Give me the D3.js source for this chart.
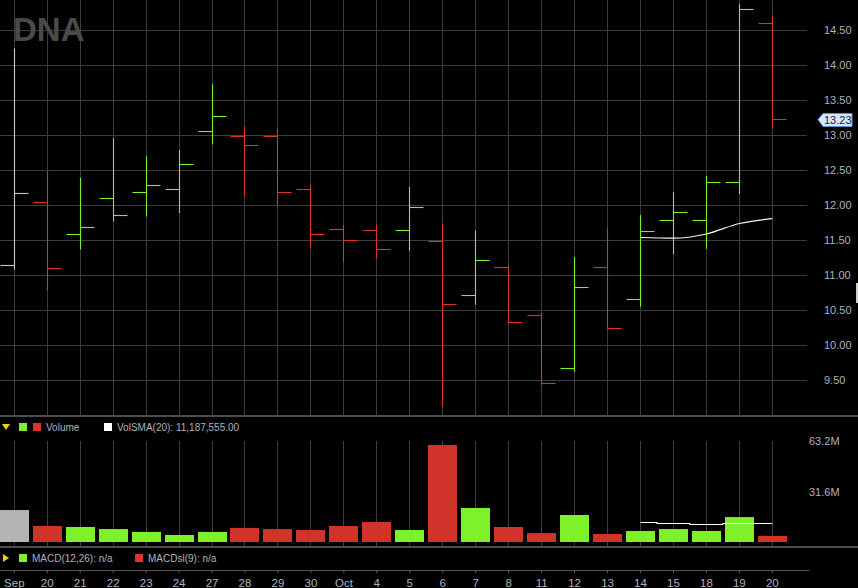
<!DOCTYPE html>
<html>
<head>
<meta charset="utf-8">
<script src="https://cdn.jsdelivr.net/npm/d3@7"></script>
<style>
  body { margin: 0; background: #000; }
  svg { display: block; font-family: "Liberation Sans", Arial, sans-serif; }
</style>
</head>
<body>
<div id="chart"></div>
<script>
// Data (DNA daily bars, Sep 17 - Oct 20)
var dates = ["2021-09-17","2021-09-20","2021-09-21","2021-09-22","2021-09-23","2021-09-24",
  "2021-09-27","2021-09-28","2021-09-29","2021-09-30","2021-10-01","2021-10-04","2021-10-05",
  "2021-10-06","2021-10-07","2021-10-08","2021-10-11","2021-10-12","2021-10-13","2021-10-14",
  "2021-10-15","2021-10-18","2021-10-19","2021-10-20"];
var tickLabels = ["Sep","20","21","22","23","24","27","28","29","30","Oct","4","5",
  "6","7","8","11","12","13","14","15","18","19","20"];
var openP  = [11.14,12.04,11.59,12.10,12.19,12.23,13.06,12.99,12.99,12.23,11.66,11.64,11.64,
  11.49,10.71,11.11,10.43,9.67,11.11,10.65,11.79,11.79,12.33,14.59];
var highP  = [14.24,12.49,12.39,12.96,12.70,12.79,13.73,13.13,13.10,12.29,11.72,11.72,12.26,
  11.74,11.64,11.14,10.46,11.26,11.67,11.86,12.19,12.42,14.88,14.71];
var lowP   = [11.08,10.78,11.37,11.77,11.84,11.89,12.87,12.13,12.00,11.39,11.18,11.24,11.35,
  9.12,10.58,10.31,9.43,9.62,10.23,10.55,11.30,11.38,12.16,13.10];
var closeP = [12.17,11.10,11.69,11.86,12.29,12.59,13.27,12.86,12.19,11.59,11.50,11.37,11.97,
  10.59,11.21,10.33,9.46,10.83,10.24,11.63,11.90,12.32,14.80,13.23];
var volume = [20.0,10.0,9.4,8.1,6.3,4.4,6.3,8.8,8.1,7.5,10.0,12.5,7.5,
  60.7,21.3,9.4,5.6,16.9,5.0,6.9,8.1,6.9,15.6,3.8]; // millions
var smaDates = ["2021-10-14","2021-10-15","2021-10-18","2021-10-19","2021-10-20"];
var priceSma = [11.54,11.53,11.59,11.74,11.81];
var volSma   = [12.3,11.5,11.1,11.6,11.6];
var priceTicks = [9.5,10,10.5,11,11.5,12,12.5,13,13.5,14,14.5];
var volTicks = [31.6,63.2];

var W = 858, H = 588, plotRight = 807;
var green = "#7df22a", red = "#dd3328", grid = "#3c3c3c", txt = "#a9b3bf";

var svg = d3.select("#chart").append("svg")
  .attr("width", W).attr("height", H)
  .style("background", "#000");

// X scale: one band per trading day
var step = 32.957;
var x = d3.scaleBand()
  .domain(dates)
  .range([14.3 - step / 2, 14.3 - step / 2 + step * dates.length])
  .padding(0);
function cx(d) { return Math.floor(x(d) + x.bandwidth() / 2) + 0.5; }

var y = d3.scaleLinear().domain([9.5, 14.5]).range([380.3, 30.3]);
var yv = d3.scaleLinear().domain([0, 63.2]).range([542, 441]);

function barColor(i) {
  if (i === 0) return "#c8c8c8";
  return closeP[i] >= closeP[i - 1] ? green : red;
}

// Grid - price panel
svg.append("g").selectAll("line.h")
  .data(priceTicks).enter().append("line")
    .attr("x1", 0).attr("x2", plotRight)
    .attr("y1", function(d) { return Math.floor(y(d)) + 0.5; })
    .attr("y2", function(d) { return Math.floor(y(d)) + 0.5; })
    .attr("stroke", grid);
svg.append("g").selectAll("line.v")
  .data(dates).enter().append("line")
    .attr("x1", cx).attr("x2", cx)
    .attr("y1", 0).attr("y2", 415)
    .attr("stroke", grid);

// Grid - volume panel
svg.append("g").selectAll("line")
  .data(dates).enter().append("line")
    .attr("x1", cx).attr("x2", cx)
    .attr("y1", 441).attr("y2", 546)
    .attr("stroke", grid);

// Title
svg.append("text")
  .attr("x", 13).attr("y", 41)
  .attr("font-size", 33).attr("font-weight", "bold")
  .attr("fill", "#4a4a4a")
  .text("DNA");

// Price axis labels
var yAxis = svg.append("g")
  .attr("transform", "translate(824,0)")
  .call(d3.axisRight(y).tickValues(priceTicks).tickSize(0).tickPadding(0)
    .tickFormat(d3.format(".2f")));
yAxis.select(".domain").remove();
yAxis.selectAll("text").attr("fill", txt).attr("font-size", 11)
  .attr("font-family", "Liberation Sans, Arial, sans-serif");

// OHLC bars
var ohlc = svg.append("g").selectAll("g")
  .data(dates).enter().append("g")
    .attr("stroke", function(d, i) { return barColor(i); })
    .attr("stroke-width", 1.1);
ohlc.append("line")
  .attr("x1", cx).attr("x2", cx)
  .attr("y1", function(d, i) { return y(highP[i]); })
  .attr("y2", function(d, i) { return y(lowP[i]); });
ohlc.append("line")
  .attr("x1", function(d) { return cx(d) - 14; }).attr("x2", cx)
  .attr("y1", function(d, i) { return Math.floor(y(openP[i])) + 0.5; })
  .attr("y2", function(d, i) { return Math.floor(y(openP[i])) + 0.5; });
ohlc.append("line")
  .attr("x1", cx).attr("x2", function(d) { return cx(d) + 14; })
  .attr("y1", function(d, i) { return Math.floor(y(closeP[i])) + 0.5; })
  .attr("y2", function(d, i) { return Math.floor(y(closeP[i])) + 0.5; });

// Price SMA line
svg.append("path")
  .datum(smaDates)
  .attr("fill", "none").attr("stroke", "#eefbe4").attr("stroke-width", 1.2)
  .attr("d", d3.line()
    .x(function(d) { return x(d) + x.bandwidth() / 2; })
    .y(function(d, i) { return y(priceSma[i]); })
    .curve(d3.curveMonotoneX));

// Last price tag
var lastY = Math.round(y(closeP[closeP.length - 1])) + 0.5;
svg.append("path")
  .attr("d", "M818," + lastY + " L823," + (lastY - 6) + " L852," + (lastY - 6) +
    " L852," + (lastY + 7) + " L823," + (lastY + 7) + " Z")
  .attr("fill", "#d7e7f9").attr("stroke", "#5b8fd3");
svg.append("text")
  .attr("x", 824).attr("y", lastY + 4)
  .attr("font-size", 11).attr("fill", "#14213d")
  .text(d3.format(".2f")(closeP[closeP.length - 1]));

// scroll handle at right edge
svg.append("rect").attr("x", 856).attr("y", 283).attr("width", 2).attr("height", 20)
  .attr("fill", "#cfcfcf");

// Panel separators
svg.append("rect").attr("x", 0).attr("y", 415).attr("width", W).attr("height", 2).attr("fill", "#4e4e4e");
svg.append("rect").attr("x", 0).attr("y", 546).attr("width", W).attr("height", 2).attr("fill", "#4e4e4e");

// Volume legend
svg.append("path").attr("d", "M2,424 L10,424 L6,430 Z").attr("fill", "#f0d000");
svg.append("rect").attr("x", 19).attr("y", 423).attr("width", 8).attr("height", 8).attr("fill", green);
svg.append("rect").attr("x", 33).attr("y", 423).attr("width", 8).attr("height", 8).attr("fill", red);
svg.append("text").attr("x", 46).attr("y", 431).attr("font-size", 10).attr("fill", txt).text("Volume");
svg.append("rect").attr("x", 104).attr("y", 423).attr("width", 8).attr("height", 8).attr("fill", "#fff");
svg.append("text").attr("x", 117).attr("y", 431).attr("font-size", 10).attr("fill", txt)
  .text("VolSMA(20): 11,187,555.00");

// Volume bars
svg.append("g").selectAll("rect")
  .data(dates).enter().append("rect")
    .attr("x", function(d) { return Math.round(x(d) + x.bandwidth() / 2 - 14.5); })
    .attr("y", function(d, i) { return yv(volume[i]); })
    .attr("width", 29)
    .attr("height", function(d, i) { return yv(0) - yv(volume[i]); })
    .attr("fill", function(d, i) {
      if (i === 0) return "#b4b4b4";
      return closeP[i] >= closeP[i - 1] ? green : "#cf3329";
    });

// Volume SMA (step)
svg.append("path")
  .datum(smaDates)
  .attr("fill", "none").attr("stroke", "#fff").attr("stroke-width", 1.2)
  .attr("d", d3.line()
    .x(function(d) { return x(d) + x.bandwidth() / 2; })
    .y(function(d, i) { return Math.floor(yv(volSma[i])) + 0.5; })
    .curve(d3.curveStep));

// Volume axis labels
var vAxis = svg.append("g")
  .attr("transform", "translate(809,0)")
  .call(d3.axisRight(yv).tickValues(volTicks).tickSize(0).tickPadding(0)
    .tickFormat(function(d) { return d.toFixed(1) + "M"; }));
vAxis.select(".domain").remove();
vAxis.selectAll("text").attr("fill", txt).attr("font-size", 11)
  .attr("font-family", "Liberation Sans, Arial, sans-serif");

// MACD legend
svg.append("path").attr("d", "M3,554 L3,562 L9,558 Z").attr("fill", "#f0d000");
svg.append("rect").attr("x", 19).attr("y", 554).attr("width", 8).attr("height", 8).attr("fill", green);
svg.append("text").attr("x", 32).attr("y", 562).attr("font-size", 10).attr("fill", txt).text("MACD(12,26): n/a");
svg.append("rect").attr("x", 135).attr("y", 554).attr("width", 8).attr("height", 8).attr("fill", red);
svg.append("text").attr("x", 148).attr("y", 562).attr("font-size", 10).attr("fill", txt).text("MACDsl(9): n/a");

// Date axis
var xAxis = svg.append("g")
  .attr("transform", "translate(0,570.5)")
  .call(d3.axisBottom(x).tickSize(3).tickPadding(0)
    .tickFormat(function(d, i) { return tickLabels[i]; }));
xAxis.select(".domain").attr("d", "M0,0H809").attr("stroke", "#555");
xAxis.selectAll(".tick line").attr("stroke", "#555");
xAxis.selectAll("text").attr("fill", txt).attr("font-size", 11.5)
  .attr("dy", 0).attr("y", 16.5)
  .attr("font-family", "Liberation Sans, Arial, sans-serif");
</script>
</body>
</html>
